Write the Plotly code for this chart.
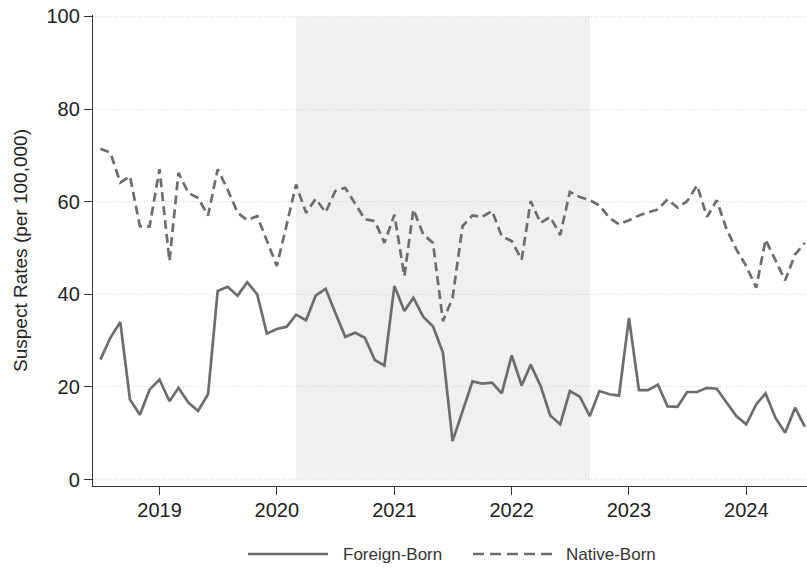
import pandas as pd
import plotly.graph_objects as go

# Monthly suspect rates per 100,000, July 2018 - July 2024
months = pd.date_range("2018-07-01", periods=73, freq="MS")

foreign_born = [
    25.9, 30.6, 34.0, 17.3, 14.0, 19.4, 21.6, 16.9, 19.8, 16.6, 14.8, 18.4,
    40.7, 41.6, 39.7, 42.6, 40.0, 31.5, 32.5, 33.0, 35.6, 34.4, 39.7, 41.2,
    36.0, 30.8, 31.7, 30.6, 25.8, 24.6, 41.8, 36.4, 39.2, 35.1, 33.1, 27.4,
    8.3, 14.8, 21.2, 20.7, 20.9, 18.6, 26.8, 20.3, 24.8, 20.2, 13.8, 11.9,
    19.1, 17.9, 13.7, 19.1, 18.4, 18.1, 34.9, 19.3, 19.3, 20.5, 15.8, 15.7,
    18.9, 18.9, 19.8, 19.6, 16.6, 13.7, 11.9, 16.2, 18.6, 13.3, 10.1, 15.5,
    11.4,
]

native_born = [
    71.4, 70.6, 64.1, 65.5, 54.7, 54.6, 67.0, 47.2, 66.2, 61.9, 60.8, 57.0,
    67.0, 62.6, 57.6, 56.0, 56.9, 51.5, 46.1, 55.1, 63.7, 57.6, 60.6, 57.7,
    62.3, 63.0, 59.4, 56.2, 55.8, 51.1, 57.2, 43.9, 58.3, 52.9, 51.1, 34.2,
    39.2, 54.7, 57.0, 56.7, 58.0, 52.5, 51.5, 47.5, 60.1, 55.4, 56.7, 52.8,
    62.1, 61.0, 60.3, 59.2, 56.5, 55.1, 56.0, 57.0, 57.7, 58.3, 60.5, 58.7,
    60.1, 63.5, 56.7, 60.3, 54.0, 49.7, 46.1, 41.4, 51.8, 47.5, 43.0, 48.6,
    51.1,
]

series_names = ["Foreign-Born", "Native-Born"]
shade_start, shade_end = "2020-03-01", "2022-09-01"
year_ticks = ["2019-01-01", "2020-01-01", "2021-01-01", "2022-01-01", "2023-01-01", "2024-01-01"]
year_labels = ["2019", "2020", "2021", "2022", "2023", "2024"]
y_ticks = [0, 20, 40, 60, 80, 100]

LINE = "#6d6d6d"
FONT = "Liberation Sans, Arial, Helvetica, sans-serif"

fig = go.Figure()
fig.add_trace(go.Scatter(x=months, y=foreign_born, mode="lines", name=series_names[0],
                         line=dict(color=LINE, width=2.7), showlegend=False))
fig.add_trace(go.Scatter(x=months, y=native_born, mode="lines", name=series_names[1],
                         line=dict(color=LINE, width=2.7, dash="9px,5px"), showlegend=False))

# shaded period
fig.add_shape(type="rect", xref="x", yref="y", x0=shade_start, x1=shade_end, y0=0, y1=100,
              fillcolor="#eff0f2", line=dict(width=0), layer="below")

# legend drawn below the plot
W, L, T, B = 807, 93, 15, 486
def px_x(p):
    return (p - L) / (W - L)
def px_y(p):
    return (B - p) / (B - T)

ly = px_y(554)
fig.add_shape(type="line", xref="paper", yref="paper", x0=px_x(248), x1=px_x(328), y0=ly, y1=ly,
              line=dict(color=LINE, width=2.7))
fig.add_shape(type="line", xref="paper", yref="paper", x0=px_x(473), x1=px_x(553), y0=ly, y1=ly,
              line=dict(color=LINE, width=2.7, dash="11px,6px"))
fig.add_annotation(xref="paper", yref="paper", x=px_x(341), y=ly, text=series_names[0],
                   showarrow=False, xanchor="left", yanchor="middle",
                   font=dict(family=FONT, size=17, color="#333333"))
fig.add_annotation(xref="paper", yref="paper", x=px_x(564), y=ly, text=series_names[1],
                   showarrow=False, xanchor="left", yanchor="middle",
                   font=dict(family=FONT, size=17, color="#333333"))

fig.update_layout(
    width=W, height=568,
    margin=dict(l=L, r=0, t=T, b=568 - B),
    paper_bgcolor="white", plot_bgcolor="white",
    font=dict(family=FONT, size=20, color="#222222"),
    showlegend=False,
)
fig.update_xaxes(
    range=["2018-06-08", "2024-07-08"],
    tickmode="array", tickvals=year_ticks, ticktext=year_labels,
    ticks="outside", ticklen=8, tickwidth=1.3, tickcolor="#333333",
    showline=True, linecolor="#333333", linewidth=1.4,
    showgrid=False, zeroline=False,
    tickfont=dict(size=20), ticklabelstandoff=-2,
)
fig.update_yaxes(
    range=[-1.4, 100.3],
    tickmode="array", tickvals=y_ticks,
    ticks="outside", ticklen=8, tickwidth=1.3, tickcolor="#333333",
    showline=True, linecolor="#333333", linewidth=1.4,
    showgrid=True, gridcolor="#d4d4d4", gridwidth=1, griddash="1px,2px",
    zeroline=False,
    tickfont=dict(size=20),
    title=dict(text="Suspect Rates (per 100,000)", font=dict(size=19, color="#222222"), standoff=13),
)

fig.write_html("out.html")
